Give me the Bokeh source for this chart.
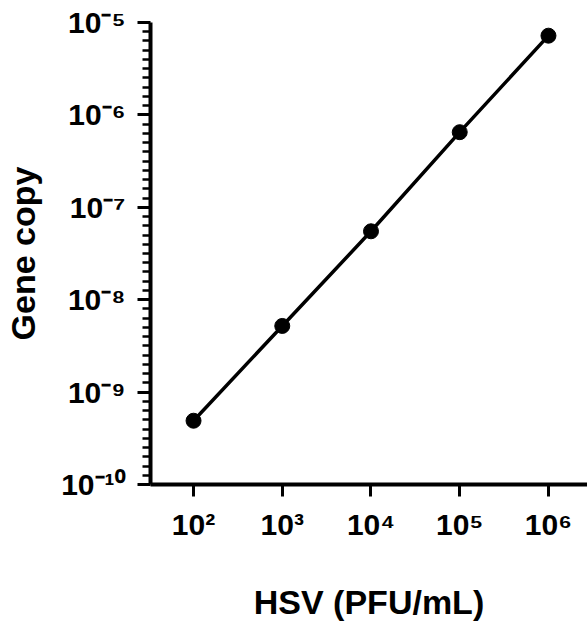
from bokeh.plotting import figure
from bokeh.models import Range1d, FixedTicker, ColumnDataSource, CustomJSTickFormatter
from bokeh.embed import file_html
from bokeh.resources import INLINE

# ---- data ----
hsv_pfu = [1e2, 1e3, 1e4, 1e5, 1e6]
gene_copy = [4.9e-10, 5.2e-9, 5.5e-8, 6.5e-7, 7.2e-6]

x_tick_values = [1e2, 1e3, 1e4, 1e5, 1e6]
x_tick_labels = ["10²", "10³", "10⁴", "10⁵", "10⁶"]
y_tick_values = [1e-10, 1e-9, 1e-8, 1e-7, 1e-6, 1e-5]
y_tick_labels = ["10⁻¹⁰", "10⁻⁹", "10⁻⁸", "10⁻⁷", "10⁻⁶", "10⁻⁵"]

x_start, x_end = 10 ** 1.515, 10 ** 6.44
y_start, y_end = 1e-10, 1e-5

FONT = "Liberation Sans"

p = figure(width=587, height=623, x_axis_type="log", y_axis_type="log",
           x_range=Range1d(x_start, x_end), y_range=Range1d(y_start, y_end),
           output_backend="svg", toolbar_location=None,
           min_border_left=150, min_border_right=0, min_border_top=22,
           min_border_bottom=137)
p.outline_line_color = None
p.xgrid.visible = False
p.ygrid.visible = False

src = ColumnDataSource(dict(x=hsv_pfu, y=gene_copy))
p.line("x", "y", source=src, line_color="black", line_width=3.5)
p.scatter("x", "y", source=src, size=15, fill_color="black", line_color="black")

# evenly spaced minor ticks on the y axis (10 per decade, as drawn)
yminor = []
for k in range(-10, -5):
    for j in range(1, 10):
        yminor.append(10 ** (k + j / 10))

p.xaxis.ticker = FixedTicker(ticks=x_tick_values, minor_ticks=[])
p.yaxis.ticker = FixedTicker(ticks=y_tick_values, minor_ticks=yminor)

FMT_CODE = """
let best = 0;
const lt = Math.log10(tick);
for (let i = 0; i < vals.length; i++) {
  if (Math.abs(Math.log10(vals[i]) - lt) < Math.abs(Math.log10(vals[best]) - lt)) best = i;
}
return labs[best];
"""
p.xaxis.formatter = CustomJSTickFormatter(args=dict(vals=x_tick_values, labs=x_tick_labels), code=FMT_CODE)
p.yaxis.formatter = CustomJSTickFormatter(args=dict(vals=y_tick_values, labs=y_tick_labels), code=FMT_CODE)

for ax in (p.xaxis, p.yaxis):
    ax.axis_line_width = 4
    ax.axis_line_color = "black"
    ax.major_tick_line_width = 3
    ax.major_tick_line_color = "black"
    ax.major_tick_in = 0
    ax.minor_tick_in = 0
    ax.minor_tick_line_width = 2.5
    ax.minor_tick_line_color = "black"
    ax.major_label_text_font = FONT
    ax.major_label_text_font_style = "bold"
    ax.major_label_text_font_size = "30px"
    ax.major_label_text_color = "black"
    ax.axis_label_text_font = FONT
    ax.axis_label_text_font_style = "bold"
    ax.axis_label_text_font_size = "34px"
    ax.axis_label_text_color = "black"

p.xaxis.major_tick_out = 12
p.xaxis.major_label_standoff = 11
p.yaxis.major_tick_out = 13
p.yaxis.minor_tick_out = 8
p.yaxis.major_label_standoff = 12

p.xaxis.axis_label = "HSV (PFU/mL)"
p.xaxis.axis_label_standoff = 39
p.yaxis.axis_label = "Gene copy"
p.yaxis.axis_label_standoff = 16

open("out.html", "w").write(file_html(p, INLINE))
